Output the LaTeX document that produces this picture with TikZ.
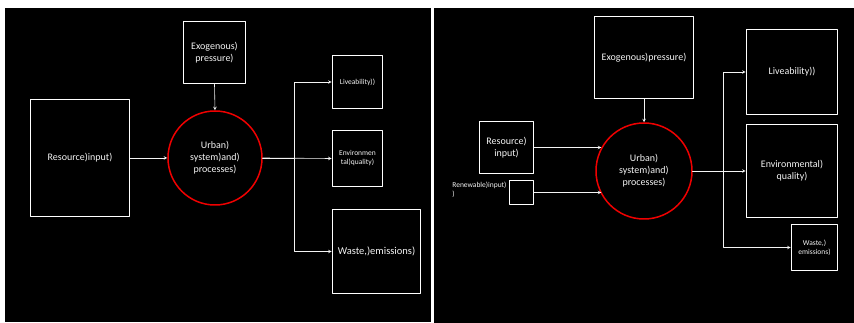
\documentclass[tikz,border=0pt]{standalone}
\usepackage{fontspec}
\setmainfont{Carlito}
\definecolor{panel}{HTML}{000000}
\definecolor{ink}{HTML}{F4F4F4}
\definecolor{hubred}{HTML}{F00000}

\begin{document}
\begin{tikzpicture}[
  x=1pt, y=-1pt,
  line cap=round, line join=round,
  every node/.style={font=\fontsize{10}{12}\selectfont, text=ink, align=center, inner sep=1pt},
  box/.style={draw=white, line width=1.6pt, rectangle},
  hub/.style={circle, draw=hubred, line width=1.5pt, inner sep=0pt},
  flow/.style={draw=ink, line width=0.6pt, ->, >=stealth},
  small/.style={font=\fontsize{7.5}{9}\selectfont},
]
\fill[white] (0,0) rectangle (854,323);
\useasboundingbox (0,0) rectangle (854,323);
\fill[panel] (5,8) rectangle (431,322);
\fill[panel] (434,8) rectangle (854,323);
% left panel
\node[box, minimum width=62pt, minimum height=62pt] (lexo) at (214.5,52.5) {Exogenous)\\pressure)};
\node[box, minimum width=99pt, minimum height=117pt] (lres) at (80,158) {Resource)input)};
\node[hub, minimum size=94pt] (lurban) at (215,158) {Urban)\\system)and)\\processes)};
\node[box, small, minimum width=50pt, minimum height=53pt] (llive) at (357.5,82) {Liveability))};
\node[box, small, minimum width=50pt, minimum height=56pt] (lenv) at (357.5,158.5) {Environmen\\tal)quality)};
\node[box, font=\fontsize{10.5}{12}\selectfont, minimum width=88pt, minimum height=84pt] (lwaste) at (376.5,251.5) {Waste,)emissions)};
\draw[flow] (lres.east) -- (lurban.west);
\draw[flow] (lexo.south) -- (lurban.north);
\draw[flow] (lurban.east) -- (lenv.west);
\draw[flow] (lurban.east) -- ++(32,0) |- (llive.west);
\draw[flow] (lurban.east) -- ++(32,0) |- (lwaste.west);
% right panel
\node[box, minimum width=99pt, minimum height=82pt] (rexo) at (644,57.5) {Exogenous)pressure)};
\node[box, minimum width=54pt, minimum height=52pt] (rres) at (506.5,147.5) {Resource)\\input)};
\node[box, minimum width=24pt, minimum height=24pt] (rren) at (521.5,192.5) {};
\node[small, align=left, inner sep=0pt, anchor=north east] (rrenlbl) at ([xshift=-2pt, yshift=-2pt]rren.north west) {Renewable)input)\\)};
\node[hub, minimum size=96pt] (rurban) at (644,171) {Urban)\\system)and)\\processes)};
\node[box, minimum width=91pt, minimum height=85pt] (rlive) at (792,72) {Liveability))};
\node[box, minimum width=91pt, minimum height=93pt] (renv) at (792,171) {Environmental)\\quality)};
\node[box, small, minimum width=46pt, minimum height=46pt] (rwaste) at (814.5,247.5) {Waste,)\\emissions)};
\draw[flow] (rres.east) -- (rres.east -| rurban.151);
\draw[flow] (rren.east) -- (rren.east -| rurban.209);
\draw[flow] (rexo.south) -- (rurban.north);
\draw[flow] (rurban.east) -- (renv.west);
\draw[flow] (rurban.east) -- ++(31,0) |- (rlive.west);
\draw[flow] (rurban.east) -- ++(31,0) |- (rwaste.west);
\end{tikzpicture}
\end{document}
